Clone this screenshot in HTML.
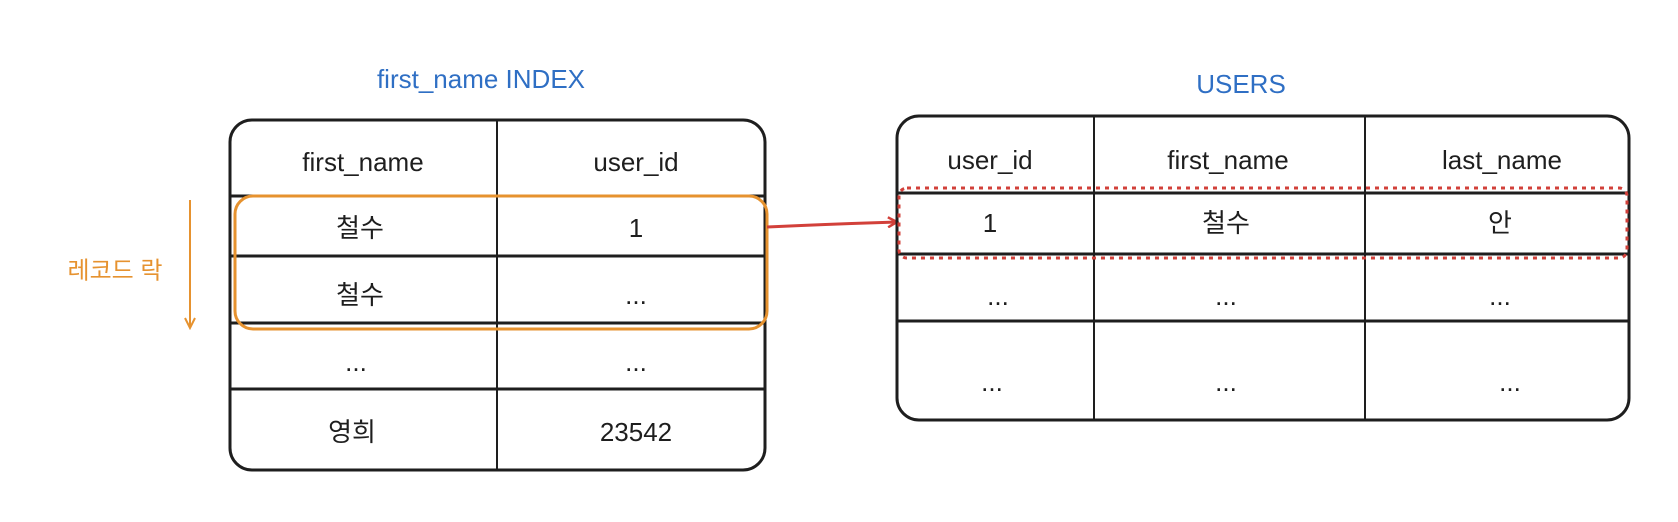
<!DOCTYPE html>
<html><head><meta charset="utf-8"><style>
html,body{margin:0;padding:0;background:#fff;width:1678px;height:522px;overflow:hidden}
svg text{font-family:"Liberation Sans","Noto Sans CJK KR",sans-serif;text-anchor:middle;dominant-baseline:central}
</style></head><body>
<svg width="1678" height="522" viewBox="0 0 1678 522" xmlns="http://www.w3.org/2000/svg">
<defs>
<marker id="ar" markerWidth="12" markerHeight="12" refX="10" refY="6" orient="auto" markerUnits="userSpaceOnUse">
<path d="M1,1 L10,6 L1,11" fill="none" stroke="#d2403a" stroke-width="2.5"/></marker>
<marker id="ao" markerWidth="14" markerHeight="14" refX="7" refY="12" orient="0" markerUnits="userSpaceOnUse">
<path d="M2,2 L7,12 L12,2" fill="none" stroke="#e6922f" stroke-width="2"/></marker>
</defs>
<!-- titles -->
<text x="481" y="79" font-size="26" fill="#2f6fc4">first_name INDEX</text>
<text x="1241" y="84" font-size="26" fill="#2f6fc4">USERS</text>
<!-- left table -->
<rect x="230" y="120" width="535" height="350" rx="22" fill="none" stroke="#1e1e1e" stroke-width="3"/>
<line x1="497" y1="120" x2="497" y2="470" stroke="#1e1e1e" stroke-width="2"/>
<line x1="230" y1="196" x2="765" y2="196" stroke="#1e1e1e" stroke-width="3"/>
<line x1="230" y1="256" x2="765" y2="256" stroke="#1e1e1e" stroke-width="3"/>
<line x1="230" y1="323" x2="765" y2="323" stroke="#1e1e1e" stroke-width="3"/>
<line x1="230" y1="389" x2="765" y2="389" stroke="#1e1e1e" stroke-width="3"/>
<g font-size="26" fill="#1e1e1e">
<text x="363" y="162">first_name</text><text x="636" y="162">user_id</text>
<text x="360" y="228">철수</text><text x="636" y="228">1</text>
<text x="360" y="295">철수</text><text x="636" y="295">...</text>
<text x="356" y="362">...</text><text x="636" y="362">...</text>
<text x="352" y="432">영희</text><text x="636" y="432">23542</text>
</g>
<!-- orange box -->
<rect x="235" y="196" width="532" height="133" rx="18" fill="none" stroke="#e6922f" stroke-width="3"/>
<line x1="190" y1="200" x2="190" y2="328" stroke="#e6922f" stroke-width="2" marker-end="url(#ao)"/>
<text x="115" y="271" font-size="24" fill="#e6922f">레코드 락</text>
<!-- red arrow -->
<path d="M767,227 Q830,224 897,222" fill="none" stroke="#d2403a" stroke-width="3" marker-end="url(#ar)"/>
<!-- right table -->
<rect x="897" y="116" width="732" height="304" rx="22" fill="none" stroke="#1e1e1e" stroke-width="3"/>
<line x1="1094" y1="116" x2="1094" y2="420" stroke="#1e1e1e" stroke-width="2"/>
<line x1="1365" y1="116" x2="1365" y2="420" stroke="#1e1e1e" stroke-width="2"/>
<line x1="897" y1="193" x2="1629" y2="193" stroke="#1e1e1e" stroke-width="3"/>
<line x1="897" y1="254" x2="1629" y2="254" stroke="#1e1e1e" stroke-width="3"/>
<line x1="897" y1="321" x2="1629" y2="321" stroke="#1e1e1e" stroke-width="3"/>
<g font-size="26" fill="#1e1e1e">
<text x="990" y="160">user_id</text><text x="1228" y="160">first_name</text><text x="1502" y="160">last_name</text>
<text x="990" y="223">1</text><text x="1226" y="223">철수</text><text x="1500" y="223">안</text>
<text x="998" y="296">...</text><text x="1226" y="296">...</text><text x="1500" y="296">...</text>
<text x="992" y="382">...</text><text x="1226" y="382">...</text><text x="1510" y="382">...</text>
</g>
<rect x="899" y="188" width="728" height="70" rx="8" fill="none" stroke="#d2403a" stroke-width="3" stroke-dasharray="4 5"/>
</svg>
</body></html>
